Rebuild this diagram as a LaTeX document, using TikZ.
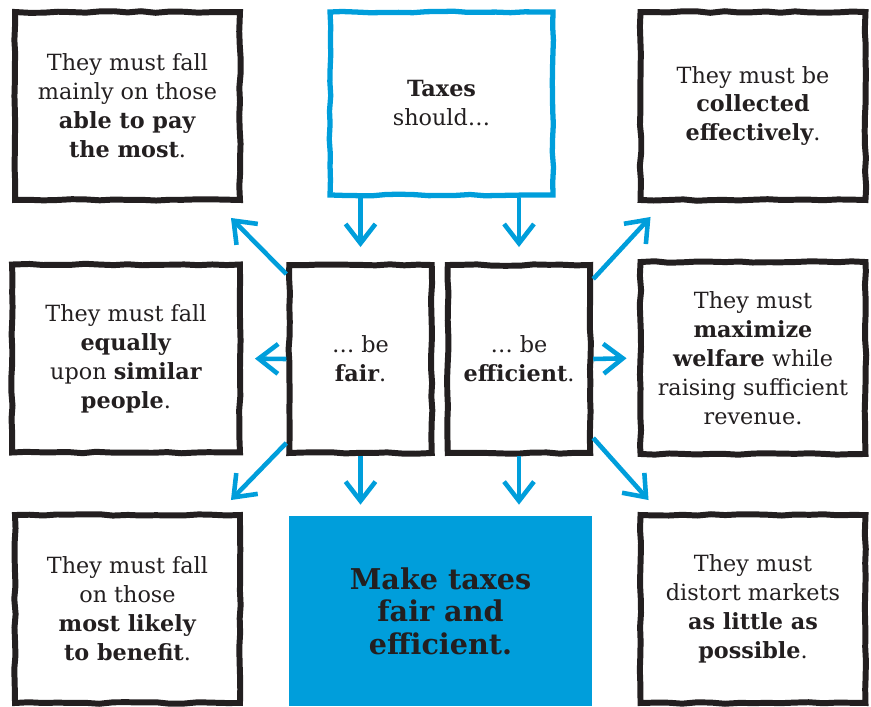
\documentclass[tikz,border=0pt]{standalone}
\usepackage{fontspec}
\setmainfont{DejaVu Serif}
\usetikzlibrary{arrows.meta,calc,decorations.pathmorphing}
\definecolor{taxblue}{RGB}{0,158,219}
\definecolor{ink}{RGB}{35,31,32}
\begin{document}
\begin{tikzpicture}[x=0.02cm,y=-0.02cm,
  card/.style={draw=ink,line width=3.4pt,decorate,
    decoration={random steps,segment length=8pt,amplitude=0.45pt},
    minimum width=4.5cm,minimum height=3.76cm,align=center,text=ink,
    font=\fontsize{12.7}{16.5}\selectfont},
  slim/.style={card,minimum width=2.85cm},
  arr/.style={taxblue,line width=2.6pt,-{Straight Barb[length=11pt,width=17pt]}}]
  \pgfmathsetseed{7}
  \useasboundingbox (0,0) rectangle (871,706);
  % top row
  \node[card] (ablepay) at (127.5,106) {They must fall\\mainly on those\\\textbf{able to pay}\\\textbf{the most}.};
  \node[card,draw=taxblue,line width=3pt,minimum width=4.46cm,minimum height=3.66cm] (taxes) at (441.5,103.5) {\textbf{Taxes}\\should…};
  \node[card] (collect) at (753,106) {They must be\\\textbf{collected}\\\textbf{effectively}.};
  % middle row
  \node[card,minimum width=4.56cm] (equal) at (126,358.5) {They must fall\\\textbf{equally}\\upon \textbf{similar}\\\textbf{people}.};
  \node[slim] (fair) at (360.5,359) {… be\\\textbf{fair}.};
  \node[slim] (eff) at (519,359) {… be\\\textbf{efficient}.};
  \node[card,minimum height=3.84cm] (welfare) at (753,358) {They must\\\textbf{maximize}\\\textbf{welfare} while\\raising sufficient\\revenue.};
  % bottom row
  \node[card] (benefit) at (127.5,609) {They must fall\\on those\\\textbf{most likely}\\\textbf{to benefit}.};
  \node[fill=taxblue,minimum width=6.06cm,minimum height=3.8cm,align=center,text=ink,
    font=\fontsize{16.3}{18.5}\selectfont\bfseries] (goal) at (440.5,611) {Make taxes\\fair and\\efficient.};
  \node[card] (distort) at (753,609) {They must\\distort markets\\\textbf{as little as}\\\textbf{possible}.};
  % arrows
  \draw[arr,shorten >=0.3cm] (fair.north |- taxes.south) -- (fair.north);
  \draw[arr,shorten >=0.3cm] (eff.north |- taxes.south) -- (eff.north);
  \draw[arr,shorten >=0.22cm] (fair.south) -- (fair.south |- goal.north);
  \draw[arr,shorten >=0.22cm] (eff.south) -- (eff.south |- goal.north);
  \draw[arr] ($(fair.north west)+(0,12)$) -- ($(ablepay.south east)+(-12,15)$);
  \draw[arr,shorten >=0.24cm] (fair.west) -- (equal.east);
  \draw[arr] ($(fair.south west)+(0,-13)$) -- ($(benefit.north east)+(-12,-12)$);
  \draw[arr] ($(eff.north east)+(0,17)$) -- ($(collect.south west)+(13,14)$);
  \draw[arr,shorten >=0.22cm] (eff.east) -- (welfare.west);
  \draw[arr] ($(eff.south east)+(0,-18)$) -- ($(distort.north west)+(11,-12)$);
\end{tikzpicture}
\end{document}
